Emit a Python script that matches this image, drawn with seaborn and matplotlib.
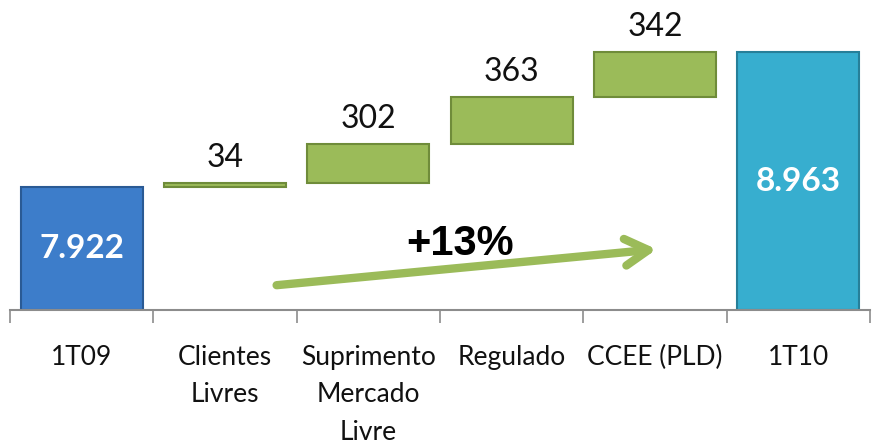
import matplotlib
matplotlib.use("Agg")
import matplotlib.pyplot as plt
import seaborn as sns
import pandas as pd
import numpy as np

categories = ["1T09", "Clientes\nLivres", "Suprimento\nMercado\nLivre", "Regulado", "CCEE (PLD)", "1T10"]
start_total = 7922
increments = [34, 302, 363, 342]
end_total = 8963
inside_labels = ["7.922", "8.963"]
delta_label = "+13%"

cum = np.cumsum([start_total] + increments)
y0 = 6975
bottoms = [y0] + list(cum[:-1]) + [y0]
heights_plot = [start_total - y0] + increments + [end_total - y0]
colors = ["#3D7DCA", "#9BBB59", "#9BBB59", "#9BBB59", "#9BBB59", "#37AECF"]
edges = ["#2A5A94", "#6F8C3A", "#6F8C3A", "#6F8C3A", "#6F8C3A", "#267F99"]

df = pd.DataFrame({"cat": categories, "h": heights_plot})

sns.set_theme(style="white")
plt.rcParams['font.family'] = ['Lato', 'DejaVu Sans']

fig = plt.figure(figsize=(8.77, 4.45), dpi=100)
ax = fig.add_axes([10/877, 1 - 310/445, 860/877, 310/445])

sns.barplot(data=df, x="cat", y="h", order=categories, bottom=bottoms,
            width=0.85, ax=ax, color="#9BBB59", saturation=1)
for p, fc, ec in zip(ax.patches, colors, edges):
    p.set_facecolor(fc)
    p.set_edgecolor(ec)
    p.set_linewidth(1.5)

ax.set_ylim(y0, 9365)
ax.set_xlim(-0.5, 5.5)
ax.set_xlabel("")
ax.set_ylabel("")
ax.set_yticks([])
for s in ["left", "right", "top"]:
    ax.spines[s].set_visible(False)
ax.spines["bottom"].set_color("#8C8C8C")
ax.spines["bottom"].set_linewidth(1.5)

ax.set_xticks(range(len(categories)))
ax.set_xticklabels(categories, fontsize=19, color="#111111", linespacing=1.62, va="top")
ax.tick_params(axis="x", which="major", length=0, pad=25)
ax.set_xticks(np.arange(-0.5, len(categories)), minor=True)
ax.tick_params(axis="x", which="minor", length=9, width=1.2, color="#8C8C8C", direction="out")
ax.xaxis.set_tick_params(which="minor", bottom=True)

# increment labels
for i, inc in enumerate(increments, start=1):
    top = cum[i]
    ax.annotate(str(inc), (i, top), xytext=(0, 7), textcoords="offset points",
                ha="center", va="bottom", fontsize=23, color="#111111")

# inside labels
ax.text(0, (y0 + start_total) / 2, inside_labels[0], ha="center", va="center",
        fontsize=24, fontweight="bold", color="white")
ax.text(5, (y0 + end_total) / 2, inside_labels[1], ha="center", va="center",
        fontsize=24, fontweight="bold", color="white")

# growth arrow
ax.annotate("", xy=(0.752, 0.196), xytext=(0.31, 0.08), xycoords="axes fraction",
            textcoords="axes fraction",
            arrowprops=dict(arrowstyle="->,head_length=1.4,head_width=0.8",
                            lw=6, color="#9BBB59", capstyle="round", joinstyle="round",
                            shrinkA=0, shrinkB=0))
ax.text(0.523, 0.212, delta_label, transform=ax.transAxes, ha="center", va="center",
        fontsize=30, fontweight="bold", color="black", family=["Liberation Sans", "DejaVu Sans"])

fig.savefig("out.png", dpi=100)
